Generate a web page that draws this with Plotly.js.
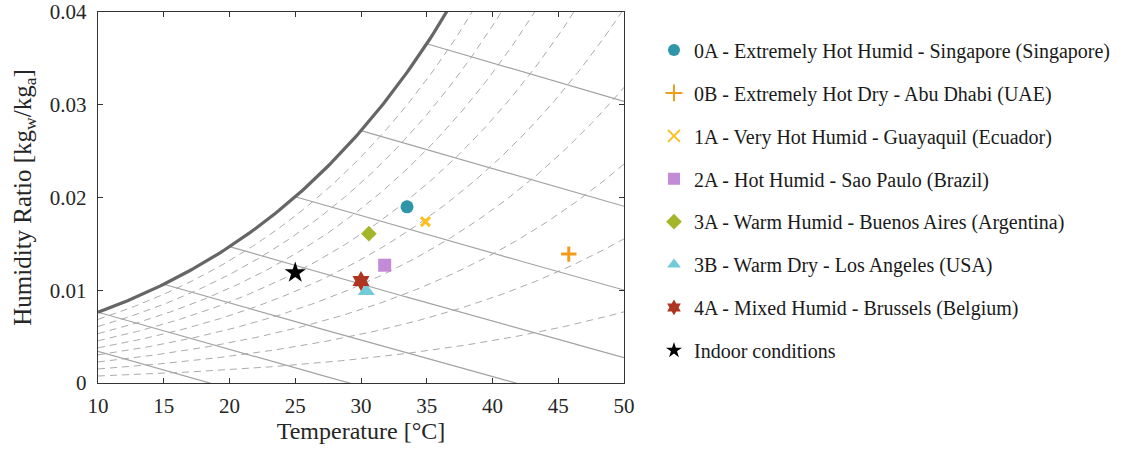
<!DOCTYPE html>
<html>
<head>
<meta charset="utf-8">
<script src="https://cdn.plot.ly/plotly-3.0.1.min.js"></script>
<style>html,body{margin:0;padding:0;background:#fff;}#chart{width:1131px;height:452px;}</style>
</head>
<body>
<div id="chart"></div>
<script>
// ---- data ----
const zoneLabels = [
  "0A - Extremely Hot Humid - Singapore (Singapore)",
  "0B - Extremely Hot Dry - Abu Dhabi (UAE)",
  "1A - Very Hot Humid - Guayaquil (Ecuador)",
  "2A - Hot Humid - Sao Paulo (Brazil)",
  "3A - Warm Humid - Buenos Aires (Argentina)",
  "3B - Warm Dry - Los Angeles (USA)",
  "4A - Mixed Humid - Brussels (Belgium)",
  "Indoor conditions"
];
const zoneTemps = [33.5, 45.8, 34.9, 31.8, 30.6, 30.4, 30.0, 25.0];       // °C
const zoneHumRatio = [0.0190, 0.0139, 0.0174, 0.0127, 0.0161, 0.0099, 0.0110, 0.0119]; // kg_w/kg_a
const zoneColors = ["#2E96A8", "#F29C1B", "#FBC020", "#C38AD6", "#A4B52A", "#73CBD9", "#AE3522", "#000000"];
const zoneSymbols = ["circle", "cross-thin", "x-thin", "square", "diamond", "triangle-up", "hexagram", "star"];
const zoneSizes = [13, 11, 9, 13, 12, 15, 15, 16];

// chart background lines (psychrometric chart)
const rhLevels = [0.1, 0.2, 0.3, 0.4, 0.5, 0.6, 0.7, 0.8, 0.9];        // relative humidity curves
const enthalpySatTemps = [5, 10, 15, 20, 25, 30, 35];                  // enthalpy lines start on saturation at these °C
const xTicks = [10, 15, 20, 25, 30, 35, 40, 45, 50];
const yTicks = [0, 0.01, 0.02, 0.03, 0.04];
const yTickText = ["0", "0.01", "0.02", "0.03", "0.04"];

// ---- psychrometric relations (ASHRAE) ----
const P_ATM = 101325;
function pws(tC) {
  const T = tC + 273.15;
  const ln = -5.8002206e3 / T + 1.3914993 - 4.8640239e-2 * T + 4.1764768e-5 * T * T
             - 1.4452093e-8 * T * T * T + 6.5459673 * Math.log(T);
  return Math.exp(ln);
}
function humRatio(tC, rh) { const pw = rh * pws(tC); return 0.621945 * pw / (P_ATM - pw); }
function enthalpy(tC, w) { return 1.006 * tC + w * (2501 + 1.86 * tC); }
function wFromH(h, tC) { return (h - 1.006 * tC) / (2501 + 1.86 * tC); }

const tGrid = [];
for (let t = 0; t <= 50.0001; t += 0.25) tGrid.push(+t.toFixed(2));

const traces = [];
rhLevels.forEach(rh => {
  const ts = tGrid.filter(t => t >= 10);
  traces.push({
    x: ts, y: ts.map(t => humRatio(t, rh)), type: "scatter", mode: "lines",
    line: {color: "#ababab", width: 1, dash: "7px,5px"}, showlegend: false, hoverinfo: "skip"
  });
});
enthalpySatTemps.forEach(ts0 => {
  const h = enthalpy(ts0, humRatio(ts0, 1));
  const xs = [], ys = [];
  tGrid.filter(t => t >= ts0).forEach(t => {
    const w = wFromH(h, t);
    if (w >= -0.0005) { xs.push(t); ys.push(w); }
  });
  traces.push({
    x: xs, y: ys, type: "scatter", mode: "lines",
    line: {color: "#a3a3a3", width: 1.2}, showlegend: false, hoverinfo: "skip"
  });
});
{
  const ts = tGrid.filter(t => t >= 10);
  traces.push({
    x: ts, y: ts.map(t => humRatio(t, 1)), type: "scatter", mode: "lines",
    line: {color: "#666666", width: 3.2}, showlegend: false, hoverinfo: "skip"
  });
}
zoneLabels.forEach((name, i) => {
  const thin = zoneSymbols[i].endsWith("-thin");
  traces.push({
    x: [zoneTemps[i]], y: [zoneHumRatio[i]], type: "scatter", mode: "markers", name: name,
    legendgroup: "g" + i,
    marker: {
      symbol: zoneSymbols[i], size: zoneSizes[i], color: zoneColors[i],
      line: thin ? {color: zoneColors[i], width: 3} : {color: "rgba(0,0,0,0)", width: 0}
    }
  });
});

const SERIF = "Liberation Serif, Times New Roman, serif";
const axisCommon = {
  showline: true, mirror: "ticks", linecolor: "#333333", linewidth: 1.2,
  ticks: "inside", ticklen: 5, tickwidth: 1, tickcolor: "#333333",
  showgrid: false, zeroline: false,
  tickfont: {family: SERIF, size: 21, color: "#262626"}
};

const layout = {
  width: 1131, height: 452,
  margin: {l: 98, r: 507, t: 12, b: 69},
  paper_bgcolor: "#ffffff", plot_bgcolor: "#ffffff",
  xaxis: Object.assign({}, axisCommon, {
    range: [10, 50], tickvals: xTicks, ticktext: xTicks.map(String), ticklabelstandoff: 4,
    title: {text: "Temperature [°C]", standoff: 4, font: {family: SERIF, size: 24, color: "#262626"}}
  }),
  yaxis: Object.assign({}, axisCommon, {
    range: [0, 0.04], tickvals: yTicks, ticktext: yTickText, ticklabelstandoff: 6,
    title: {text: "Humidity Ratio [kg<sub>w</sub>/kg<sub>a</sub>]", standoff: 11,
            font: {family: SERIF, size: 25, color: "#262626"}}
  }),
  showlegend: true,
  legend: {
    x: 1.057, xanchor: "left", y: 0.95, yanchor: "top",
    font: {family: SERIF, size: 20, color: "#1a1a1a"},
    traceorder: "grouped", tracegroupgap: 13.9, itemsizing: "constant",
    bgcolor: "rgba(0,0,0,0)", borderwidth: 0
  },
  hovermode: false
};

Plotly.newPlot("chart", traces, layout, {displayModeBar: false, staticPlot: true});
</script>
</body>
</html>
